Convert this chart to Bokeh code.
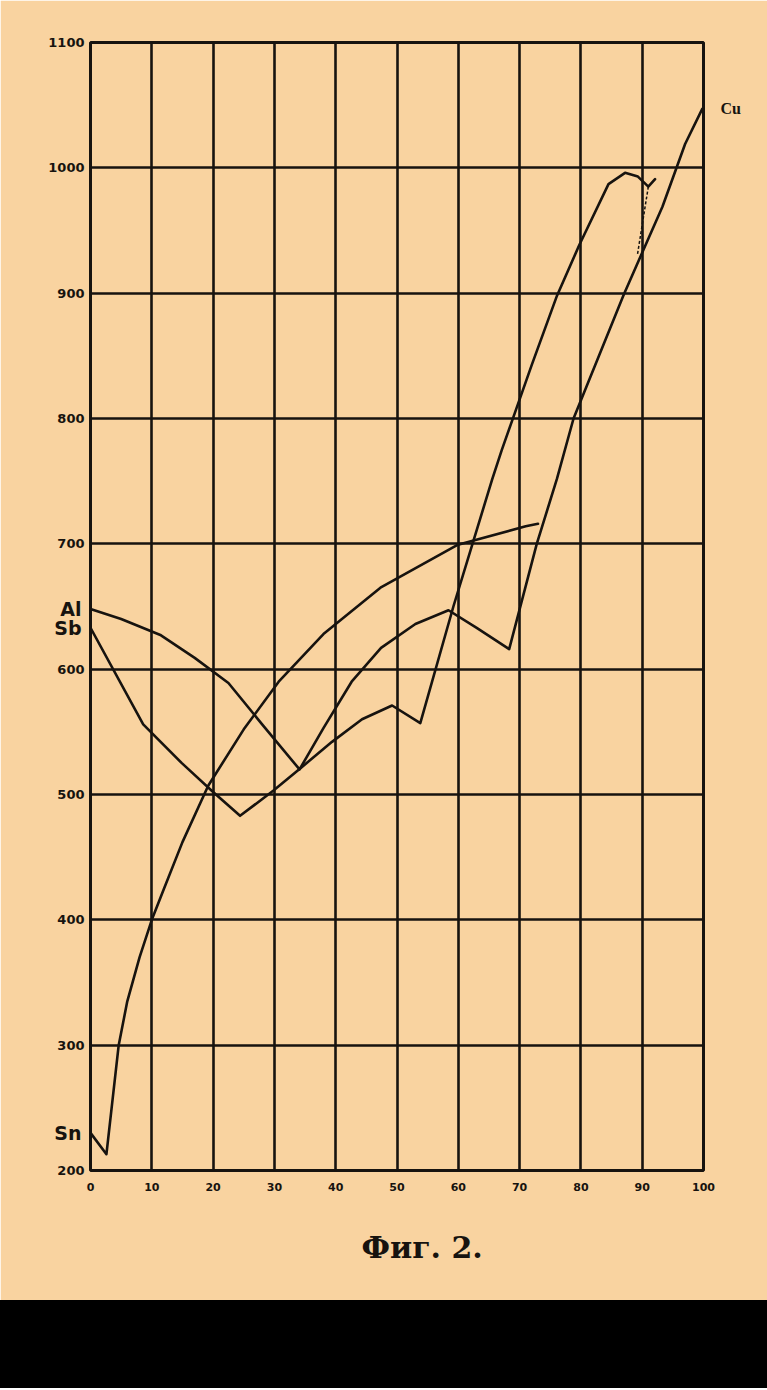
from bokeh.plotting import figure
from bokeh.models import Range1d, FixedTicker, LinearAxis, Title, Div
from bokeh.layouts import column
from bokeh.embed import file_html
from bokeh.resources import INLINE

# ---- data (x = % Cu, y = temperature) ----
x_ticks = [0, 10, 20, 30, 40, 50, 60, 70, 80, 90, 100]
y_ticks = [200, 300, 400, 500, 600, 700, 800, 900, 1000, 1100]

sn_x = [0, 2.6, 4.6, 6.0, 8.0, 10.0, 12.0, 15.0, 19.2, 25.0, 30.7, 38.0, 47.3, 59.8, 71.0, 73.0]
sn_y = [230, 213, 300, 335, 370, 400, 425, 462, 507, 552, 590, 628, 665, 699, 714, 716]

al_x = [0, 5, 11.5, 17, 22.5, 28, 34.1, 38, 42.6, 47.4, 53, 58.4, 63, 68.3, 72.8, 76.1, 78.8, 87.0, 93.3, 97.0, 99.8]
al_y = [648, 640, 627, 609, 589, 556, 520, 553, 590, 617, 636, 647, 633, 616, 700, 752, 800, 899, 969, 1019, 1047]

sb_x = [0, 8.6, 14.9, 20, 24.4, 29.8, 34.5, 39.4, 44.3, 49.2, 53.8, 59.2, 65.5, 67.1, 72, 76.1, 79.7, 84.5, 87.2, 89.3, 91.0, 92.1]
sb_y = [633, 556, 525, 502, 483, 503, 522, 542, 560, 571, 557, 650, 751, 775, 843, 898, 938, 987, 996, 993, 985, 991]

link_x = [91.0, 89.2]
link_y = [985, 930]

left_elements = ["Al", "Sb", "Sn"]
left_element_y = [648, 633, 230]
right_elements = ["Cu"]
right_element_y = [1047]
caption = "Фиг. 2."

BG = "#F9D3A0"
INK = "#17130f"

p = figure(width=767, height=1300, x_range=Range1d(0, 100), y_range=Range1d(200, 1100),
           output_backend="svg", toolbar_location=None,
           min_border_left=90, min_border_right=64, min_border_top=42, min_border_bottom=130,
           background_fill_color=BG, border_fill_color=BG)

p.xaxis.ticker = FixedTicker(ticks=x_ticks)
p.yaxis.ticker = FixedTicker(ticks=y_ticks)


def style_axis(ax, size, standoff):
    ax.axis_line_color = None
    ax.major_tick_line_color = None
    ax.minor_tick_line_color = None
    ax.major_tick_out = 0
    ax.major_tick_in = 0
    ax.major_label_text_font = "DejaVu Sans"
    ax.major_label_text_font_style = "bold"
    ax.major_label_text_font_size = size
    ax.major_label_text_color = INK
    ax.major_label_standoff = standoff


style_axis(p.xaxis[0], "11px", 12)
style_axis(p.yaxis[0], "13px", 6)

# element names as an extra left axis, pulled in toward the frame
el_axis = LinearAxis(ticker=FixedTicker(ticks=left_element_y),
                     major_label_overrides={v: n for v, n in zip(left_element_y, left_elements)})
style_axis(el_axis, "19px", -36)
p.add_layout(el_axis, "left")

cu_axis = LinearAxis(ticker=FixedTicker(ticks=right_element_y),
                     major_label_overrides={v: n for v, n in zip(right_element_y, right_elements)})
style_axis(cu_axis, "16px", 17)
cu_axis.major_label_text_font = "Liberation Serif"
p.add_layout(cu_axis, "right")

p.ygrid.ticker = FixedTicker(ticks=y_ticks)
p.xgrid.ticker = FixedTicker(ticks=x_ticks)
p.grid.grid_line_color = INK
p.grid.grid_line_width = 2.6
p.outline_line_color = INK
p.outline_line_width = 3

for xs, ys in ((sn_x, sn_y), (al_x, al_y), (sb_x, sb_y)):
    p.line(xs, ys, line_color=INK, line_width=2.6, line_join="round", line_cap="round")
p.line(link_x, link_y, line_color=INK, line_width=1.5, line_dash="3 2")

p.add_layout(Title(text=caption, align="left", offset=271, standoff=68,
                   text_font="DejaVu Serif", text_font_style="bold",
                   text_font_size="30px", text_color=INK), "below")

band = Div(text="", width=767, height=88, margin=0, styles={"background-color": "black"})

layout = column(p, band, spacing=0)
open("out.html", "w").write(file_html(layout, INLINE))
